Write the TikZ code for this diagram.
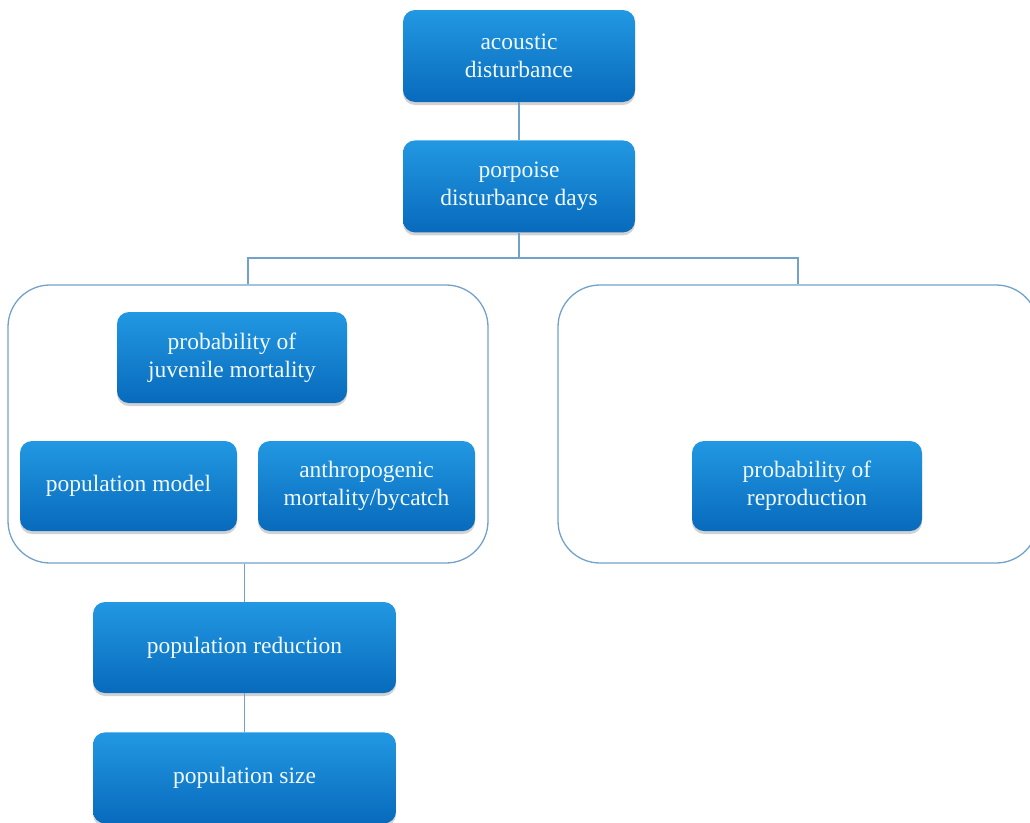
\documentclass[tikz,border=0pt]{standalone}
\usepackage{fontspec}
\setmainfont{Liberation Serif}
\usetikzlibrary{positioning, shadows}

\definecolor{boxtop}{RGB}{34,152,226}
\definecolor{boxbottom}{RGB}{8,106,188}
\definecolor{linkblue}{RGB}{112,162,204}

\begin{document}
\begin{tikzpicture}[
    x=1pt, y=1pt,
    font=\fontsize{23.5}{28}\selectfont,
    % Define styles
    box/.style={rectangle, rounded corners=12pt, top color=boxtop, bottom color=boxbottom, draw=none, text=white!94!cyan, align=center, minimum width=232pt, minimum height=92pt, inner sep=0pt, drop shadow={shadow xshift=0pt, shadow yshift=-3pt, opacity=0.25, fill=black!70}},
    group/.style={rectangle, rounded corners=42pt, draw=linkblue, line width=1.3pt, minimum width=480pt, minimum height=278pt},
    link/.style={draw=linkblue, line width=1.2pt}
]
\useasboundingbox (0,0) rectangle (1030,-822);
\clip (0,0) rectangle (1030,-822);

% 1. Disturbance chain
\node[box] (acoustic) at (519,-56) {acoustic\\disturbance};
\node[box, below=38pt of acoustic] (porpoise) {porpoise\\disturbance days};

% 2. Two groups
\node[group] (leftgrp) at (248,-424) {};
\node[group] (rightgrp) at (798,-424) {};
\coordinate (bus) at (519,-258);

% Inside left group
\node[box, minimum width=230pt, minimum height=91pt] (juvenile) at (232,-357.5) {probability of\\juvenile mortality};
\node[box, minimum width=217pt, minimum height=90pt] (popmodel) at (128.5,-486) {population model};
\node[box, minimum width=217pt, minimum height=90pt] (anthro) at (366.5,-486) {anthropogenic\\mortality/bycatch};

% Inside right group
\node[box, minimum width=230pt, minimum height=90pt] (repro) at (807,-486) {probability of\\reproduction};

% 3. Population outcome
\node[box, minimum width=303pt, minimum height=91pt] (reduction) at (244.5,-647.5) {population reduction};
\node[box, minimum width=303pt, minimum height=91pt, below=39pt of reduction] (popsize) {population size};

% Connections
\draw[link] (acoustic.south) -- (porpoise.north);
\draw[link] (porpoise.south) -- (bus);
\draw[link] (leftgrp.north) |- (bus) -| (rightgrp.north);
\draw[link] (reduction.north |- leftgrp.south) -- (reduction.north);
\draw[link] (reduction.south) -- (popsize.north);

\end{tikzpicture}
\end{document}
